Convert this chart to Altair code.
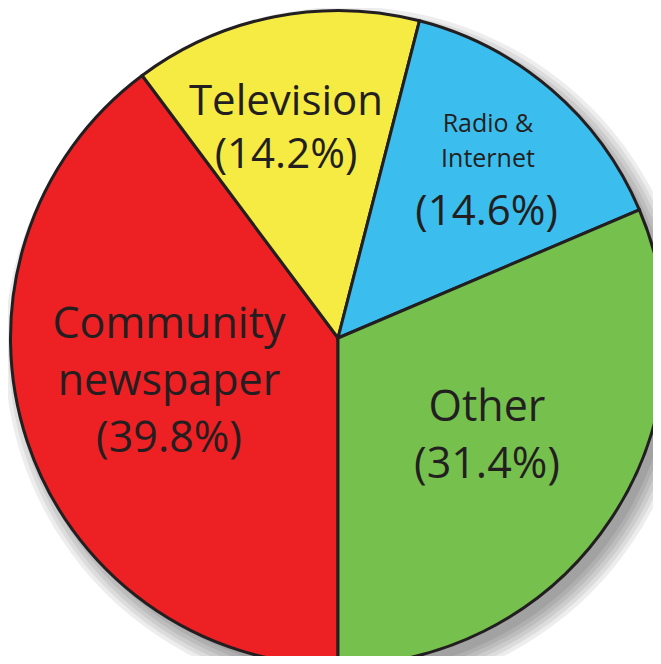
import math
import altair as alt
import pandas as pd

# ---- data ----
categories = ["Community newspaper", "Television", "Radio & Internet", "Other"]
shares = [39.8, 14.2, 14.6, 31.4]
name_labels = ["Community\nnewspaper", "Television", "Radio &\nInternet", "Other"]
pct_labels = ["(39.8%)", "(14.2%)", "(14.6%)", "(31.4%)"]
colors = ["#ED2024", "#F6EB43", "#3BBEEE", "#76C14E"]

source = pd.DataFrame({
    "category": categories,
    "share": shares,
    "name": name_labels,
    "pct": pct_labels,
    "order": list(range(len(categories))),
})

TEXT = "#231F20"
FONT = "Open Sans"
R = 327.5
W, H = 645, 648       # svg must fit in the window with the 8px page margin
CX, CY = 330, 330     # pie centre (the pie runs off the right/bottom edges)

base = alt.Chart(source).encode(
    theta=alt.Theta("share:Q", stack=True,
                    scale=alt.Scale(range=[math.pi, 3 * math.pi])),
    order=alt.Order("order:Q"),
)

# soft drop shadow
shadow = [
    alt.Chart(source).transform_aggregate(total="sum(share)").mark_arc(
        radius=R - 4 + 4 * k, theta=0, theta2=2 * math.pi,
        x=CX + 10, y=CY + 12, color="#000000", opacity=0.07,
    ).encode(tooltip=alt.value(None))
    for k in range(6)
]

pie = base.mark_arc(radius=R, x=CX, y=CY, stroke=TEXT, strokeWidth=3).encode(
    color=alt.Color("category:N", scale=alt.Scale(domain=categories, range=colors),
                    legend=None)
)


def label(cat, expr, size, lh, nlines, radius, dtheta):
    return base.transform_calculate(
        t=f"datum.category === '{cat}' ? {expr} : ''"
    ).mark_text(
        x=CX, y=CY, dy=-(nlines - 1) * lh / 2,
        radius=radius, thetaOffset=math.radians(dtheta), fontSize=size,
        lineHeight=lh, lineBreak="\n", font=FONT, color=TEXT,
        align="center", baseline="middle",
    ).encode(text="t:N")


full = "datum.name + '\\n' + datum.pct"
labels = [
    label("Community newspaper", full, 43, 57, 3, 174.6, 3.8),
    label("Television", full, 42, 53, 2, 215.9, -2.78),
    label("Radio & Internet", "datum.name", 25, 35, 2, 247.2, -3.33),
    label("Radio & Internet", "datum.pct", 42, 53, 1, 194.8, 9.0),
    label("Other", full, 43, 57, 2, 178.6, 0),
]

chart = alt.layer(*shadow, pie, *labels).properties(
    width=W, height=H, padding=0, autosize=alt.AutoSizeParams(type="none")
).configure_view(stroke=None)

chart.save("out.html", embed_options={"renderer": "svg", "actions": False})
